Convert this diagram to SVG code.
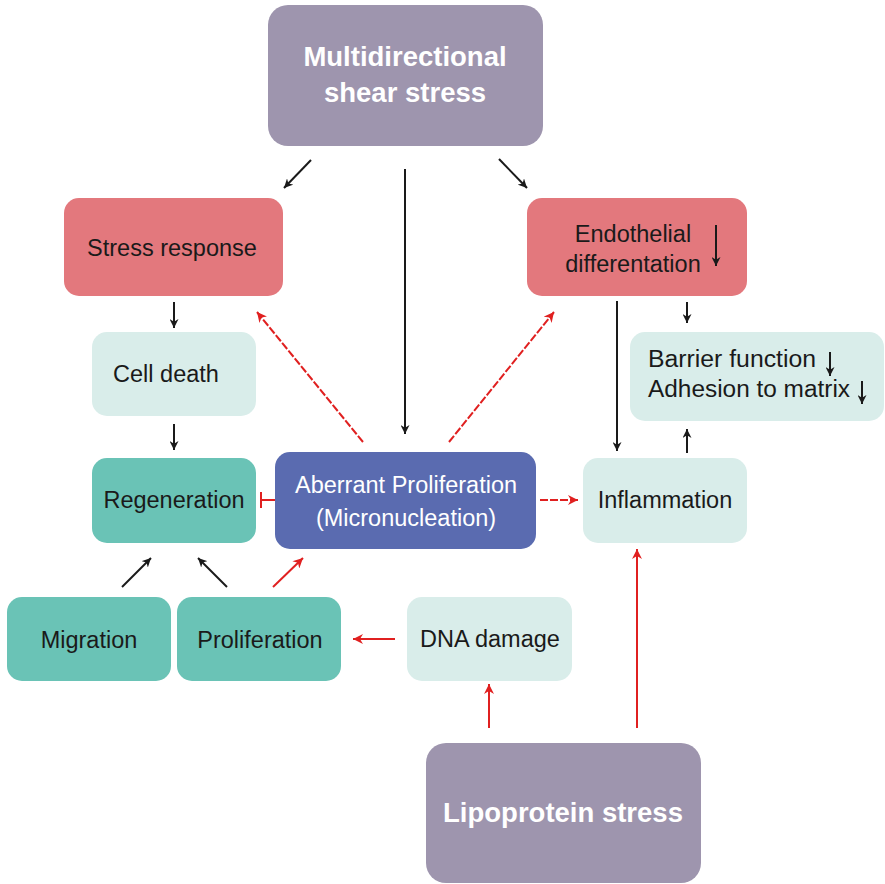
<svg xmlns="http://www.w3.org/2000/svg" width="885" height="884" viewBox="0 0 885 884">
<defs>
<marker id="ab" viewBox="0 0 10 10" refX="10" refY="5" markerWidth="9" markerHeight="9" markerUnits="userSpaceOnUse" orient="auto"><path d="M0,0 L10,5 L0,10 L3,5 z" fill="#1a1a1a"/></marker>
<marker id="ar" viewBox="0 0 10 10" refX="10" refY="5" markerWidth="10" markerHeight="10" markerUnits="userSpaceOnUse" orient="auto"><path d="M0,0 L10,5 L0,10 L3,5 z" fill="#e02020"/></marker>
</defs>
<style>
text{font-family:"Liberation Sans",Arial,sans-serif;font-size:23.5px;fill:#1a1a1a;text-anchor:middle}
.b{font-weight:bold;font-size:27.5px;fill:#fff}
.w{fill:#fff}
.gray{fill:#9e95ae}
.red{fill:#e3787d}
.lt{fill:#d9edea}
.teal{fill:#6ac3b6}
.blue{fill:#5a6bb0}
.k{stroke:#1a1a1a;stroke-width:2;fill:none}
.r{stroke:#e02020;stroke-width:2;fill:none}
.d{stroke-dasharray:8 2}
</style>
<g id="shear"><rect class="gray" x="268" y="5" width="275" height="141" rx="20"/><text class="b" x="405" y="66">Multidirectional</text><text class="b" x="405" y="102">shear stress</text></g>
<g id="stress"><rect class="red" x="64" y="198" width="219" height="98" rx="15"/><text x="172" y="256">Stress response</text></g>
<g id="endo"><rect class="red" x="527" y="198" width="220" height="98" rx="15"/><text x="633" y="242">Endothelial</text><text x="633" y="272">differentation</text><line class="k" x1="716" y1="225" x2="716" y2="266" marker-end="url(#ab)"/></g>
<g id="celldeath"><rect class="lt" x="92" y="332" width="164" height="84" rx="15"/><text x="166" y="382">Cell death</text></g>
<g id="barrier"><rect class="lt" x="630" y="332" width="254" height="89" rx="15"/><text x="648" y="367" style="text-anchor:start" textLength="168" lengthAdjust="spacingAndGlyphs">Barrier function</text><text x="648" y="397" style="text-anchor:start" textLength="202" lengthAdjust="spacingAndGlyphs">Adhesion to matrix</text><line class="k" x1="830" y1="352" x2="830" y2="376" marker-end="url(#ab)"/><line class="k" x1="862" y1="381" x2="862" y2="404" marker-end="url(#ab)"/></g>
<g id="regen"><rect class="teal" x="92" y="458" width="164" height="85" rx="15"/><text x="174" y="508">Regeneration</text></g>
<g id="aberrant"><rect class="blue" x="275" y="452" width="261" height="97" rx="15"/><text class="w" x="406" y="493">Aberrant Proliferation</text><text class="w" x="406" y="526">(Micronucleation)</text></g>
<g id="inflam"><rect class="lt" x="583" y="458" width="164" height="85" rx="15"/><text x="665" y="508">Inflammation</text></g>
<g id="migration"><rect class="teal" x="7" y="597" width="164" height="84" rx="15"/><text x="89" y="648">Migration</text></g>
<g id="prolif"><rect class="teal" x="177" y="597" width="164" height="84" rx="15"/><text x="260" y="648">Proliferation</text></g>
<g id="dna"><rect class="lt" x="407" y="597" width="165" height="84" rx="15"/><text x="490" y="647">DNA damage</text></g>
<g id="lipo"><rect class="gray" x="426" y="743" width="275" height="140" rx="20"/><text class="b" x="563" y="822">Lipoprotein stress</text></g>
<g id="connectors">
<line class="k" x1="311" y1="160" x2="284" y2="188" marker-end="url(#ab)"/>
<line class="k" x1="405" y1="169" x2="405" y2="434" marker-end="url(#ab)"/>
<line class="k" x1="499" y1="159" x2="527" y2="188" marker-end="url(#ab)"/>
<line class="k" x1="174" y1="302" x2="174" y2="328" marker-end="url(#ab)"/>
<line class="k" x1="174" y1="424" x2="174" y2="450" marker-end="url(#ab)"/>
<line class="k" x1="687" y1="302" x2="687" y2="323" marker-end="url(#ab)"/>
<line class="k" x1="617" y1="301" x2="617" y2="451" marker-end="url(#ab)"/>
<line class="k" x1="687" y1="453" x2="687" y2="429" marker-end="url(#ab)"/>
<line class="r d" x1="363" y1="442" x2="257" y2="312" marker-end="url(#ar)"/>
<line class="r d" x1="449" y1="442" x2="554" y2="312" marker-end="url(#ar)"/>
<line class="r" x1="275" y1="500" x2="261" y2="500"/>
<line class="r" x1="261" y1="492" x2="261" y2="508" stroke-width="2.5"/>
<line class="r d" x1="540" y1="500" x2="578" y2="500" marker-end="url(#ar)"/>
<line class="k" x1="122" y1="587" x2="151" y2="558" marker-end="url(#ab)"/>
<line class="k" x1="227" y1="587" x2="198" y2="558" marker-end="url(#ab)"/>
<line class="r" x1="273" y1="587" x2="303" y2="558" marker-end="url(#ar)"/>
<line class="r" x1="395" y1="639" x2="353" y2="639" marker-end="url(#ar)"/>
<line class="r" x1="489" y1="728" x2="489" y2="684" marker-end="url(#ar)"/>
<line class="r" x1="637" y1="728" x2="637" y2="549" marker-end="url(#ar)"/>
</g>
</svg>
